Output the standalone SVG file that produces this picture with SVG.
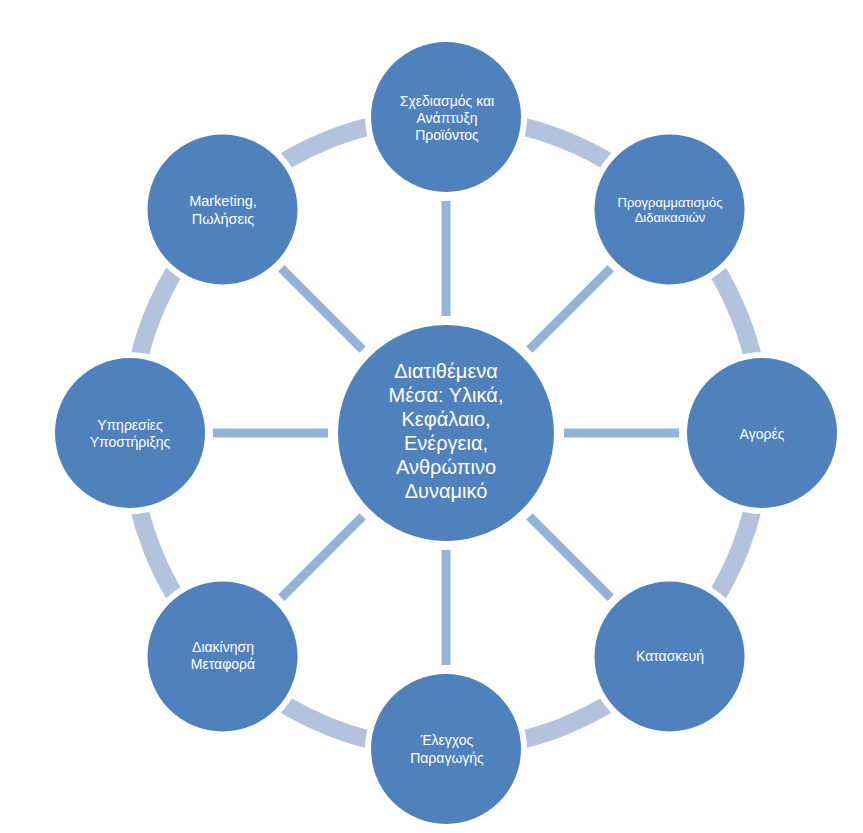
<svg xmlns="http://www.w3.org/2000/svg" width="863" height="833" viewBox="0 0 863 833">
<style>
.node{fill:#4F81BD}
.t{fill:#FFFFFF;font-family:"Liberation Sans",Arial,sans-serif;font-size:14px;text-anchor:middle}
.tc{fill:#FFFFFF;font-family:"Liberation Sans",Arial,sans-serif;font-size:20px;text-anchor:middle}
.spoke{stroke:#95B3D7;stroke-width:9;fill:none}
</style>
<defs>
<mask id="ringMask" maskUnits="userSpaceOnUse" x="0" y="0" width="863" height="833">
<rect x="0" y="0" width="863" height="833" fill="#fff"/>
<circle cx="446" cy="117" r="81" fill="#000"/>
<circle cx="669.5" cy="209.5" r="81" fill="#000"/>
<circle cx="762" cy="433" r="81" fill="#000"/>
<circle cx="669.5" cy="656.5" r="81" fill="#000"/>
<circle cx="446" cy="749" r="81" fill="#000"/>
<circle cx="222.5" cy="656.5" r="81" fill="#000"/>
<circle cx="130" cy="433" r="81" fill="#000"/>
<circle cx="222.5" cy="209.5" r="81" fill="#000"/>
</mask>
</defs>
<rect width="863" height="833" fill="#FFFFFF"/>
<g id="connectors">
<circle cx="446" cy="433" r="316" fill="none" stroke="#B3C2DD" stroke-width="18" mask="url(#ringMask)"/>
<line class="spoke" x1="446" y1="316" x2="446" y2="201"/>
<line class="spoke" x1="529.4" y1="349.6" x2="610.7" y2="268.3"/>
<line class="spoke" x1="564" y1="433" x2="679" y2="433"/>
<line class="spoke" x1="529.4" y1="516.4" x2="610.7" y2="597.7"/>
<line class="spoke" x1="446" y1="550" x2="446" y2="665"/>
<line class="spoke" x1="362.6" y1="516.4" x2="281.3" y2="597.7"/>
<line class="spoke" x1="328" y1="433" x2="213" y2="433"/>
<line class="spoke" x1="362.6" y1="349.6" x2="281.3" y2="268.3"/>
</g>
<g id="center">
<circle class="node" cx="446" cy="433" r="108"/>
<text class="tc" x="446" y="378">Διατιθέμενα</text>
<text class="tc" x="446" y="402">Μέσα: Υλικά,</text>
<text class="tc" x="446" y="426">Κεφάλαιο,</text>
<text class="tc" x="446" y="450">Ενέργεια,</text>
<text class="tc" x="446" y="474">Ανθρώπινο</text>
<text class="tc" x="446" y="498">Δυναμικό</text>
</g>
<g id="design">
<circle class="node" cx="446" cy="117" r="75"/>
<text class="t" x="447" y="106">Σχεδιασμός και</text>
<text class="t" x="447" y="123">Ανάπτυξη</text>
<text class="t" x="447" y="140">Προϊόντος</text>
</g>
<g id="scheduling">
<circle class="node" cx="669.5" cy="209.5" r="75"/>
<text class="t" x="670" y="207" style="font-size:13px">Προγραμματισμός</text>
<text class="t" x="670" y="222" style="font-size:13px">Διδαικασιών</text>
</g>
<g id="markets">
<circle class="node" cx="762" cy="433" r="75"/>
<text class="t" x="762" y="439">Αγορές</text>
</g>
<g id="construction">
<circle class="node" cx="669.5" cy="656.5" r="75"/>
<text class="t" x="670" y="661">Κατασκευή</text>
</g>
<g id="control">
<circle class="node" cx="446" cy="749" r="75"/>
<text class="t" x="447" y="745">Έλεγχος</text>
<text class="t" x="447" y="763">Παραγωγής</text>
</g>
<g id="distribution">
<circle class="node" cx="222.5" cy="656.5" r="75"/>
<text class="t" x="223" y="652">Διακίνηση</text>
<text class="t" x="223" y="669">Μεταφορά</text>
</g>
<g id="support">
<circle class="node" cx="130" cy="433" r="75"/>
<text class="t" x="130" y="430">Υπηρεσίες</text>
<text class="t" x="130" y="447">Υποστήριξης</text>
</g>
<g id="marketing">
<circle class="node" cx="222.5" cy="209.5" r="75"/>
<text class="t" x="223" y="206" style="font-size:14.5px">Marketing,</text>
<text class="t" x="223" y="224" style="font-size:14.5px">Πωλήσεις</text>
</g>
</svg>
